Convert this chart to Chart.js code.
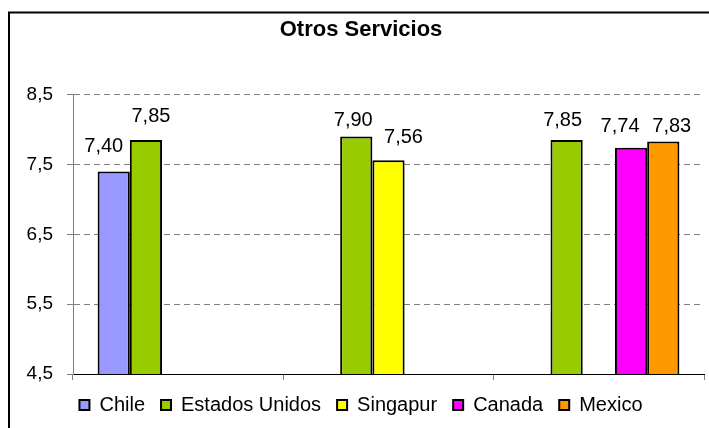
<!DOCTYPE html>
<html>
<head>
<meta charset="utf-8">
<script src="https://cdn.jsdelivr.net/npm/chart.js@4"></script>
<style>
  html, body { margin: 0; padding: 0; background: #fff; }
  #wrap { width: 709px; height: 428px; }
</style>
</head>
<body>
<div id="wrap"><canvas id="otrosChart" width="709" height="428"></canvas></div>
<script>
// datos del grafico
const categorias = ['', '', ''];
const chile = [7.40, null, null];
const estadosUnidos = [7.85, 7.90, 7.85];
const singapur = [null, 7.56, null];
const canada = [null, null, 7.74];
const mexico = [null, null, 7.83];
const yTicks = [4.5, 5.5, 6.5, 7.5, 8.5];

const FONT = "'Liberation Sans', Arial, sans-serif";

// marco exterior del grafico
const marco = {
  id: 'marco',
  beforeDraw(chart) {
    const ctx = chart.ctx;
    ctx.save();
    ctx.fillStyle = '#fff';
    ctx.fillRect(0, 0, chart.width, chart.height);
    ctx.strokeStyle = '#000';
    ctx.lineWidth = 2;
    ctx.strokeRect(9, 12.5, 1000, 1000);
    ctx.restore();
  }
};

// etiquetas con el valor encima de cada barra
const etiquetas = {
  id: 'etiquetas',
  afterDatasetsDraw(chart, args, opts) {
    const ctx = chart.ctx;
    ctx.save();
    ctx.font = opts.font;
    ctx.fillStyle = '#000';
    ctx.textAlign = 'center';
    ctx.textBaseline = 'alphabetic';
    chart.data.datasets.forEach((ds, di) => {
      const meta = chart.getDatasetMeta(di);
      meta.data.forEach((bar, i) => {
        const v = ds.data[i];
        if (v === null || v === undefined) return;
        const off = (opts.offsets[di] && opts.offsets[di][i]) || [0, 14];
        ctx.fillText(v.toFixed(2).replace('.', ','), bar.x + off[0], bar.y - off[1]);
      });
    });
    ctx.restore();
  }
};

const ctx = document.getElementById('otrosChart').getContext('2d');
const chart = new Chart(ctx, {
  type: 'bar',
  data: {
    labels: categorias,
    datasets: [
      { label: 'Chile', data: chile, backgroundColor: '#9999FF' },
      { label: 'Estados Unidos', data: estadosUnidos, backgroundColor: '#99CC00' },
      { label: 'Singapur', data: singapur, backgroundColor: '#FFFF00' },
      { label: 'Canada', data: canada, backgroundColor: '#FF00FF' },
      { label: 'Mexico', data: mexico, backgroundColor: '#FF9900' }
    ].map(d => Object.assign(d, {
      borderColor: '#000', borderWidth: 2, borderSkipped: false,
      categoryPercentage: 0.766, barPercentage: 1
    }))
  },
  options: {
    responsive: false,
    animation: false,
    layout: { padding: { left: 18, right: 5, top: 12, bottom: 3 } },
    plugins: {
      title: {
        display: true,
        text: 'Otros Servicios',
        color: '#000',
        font: { family: FONT, size: 22, weight: 'bold' },
        padding: { top: 4.8, bottom: 51.5 }
      },
      legend: {
        position: 'bottom',
        labels: {
          color: '#000',
          font: { family: FONT, size: 20 },
          boxWidth: 10, boxHeight: 10,
          padding: 16
        }
      },
      tooltip: { enabled: false },
      etiquetas: {
        font: '20px ' + FONT,
        // desplazamiento [dx, distancia sobre la barra] de cada etiqueta
        offsets: [
          [[-10, 20]],
          [[5, 18.5], [-3, 11], [-4, 14.5]],
          [null, [15, 17]],
          [null, null, [-11, 15.5]],
          [null, null, [8.5, 9]]
        ]
      }
    },
    scales: {
      x: {
        afterFit: s => { s.height = 5; },
        ticks: { display: false },
        grid: { drawOnChartArea: false, drawTicks: true, tickLength: 6, tickColor: '#808080' },
        border: { color: '#000', width: 1 }
      },
      y: {
        min: 4.5,
        max: 8.5,
        afterFit: s => { s.width = 55; },
        afterBuildTicks: s => { s.ticks = yTicks.map(v => ({ value: v })); },
        ticks: {
          color: '#000',
          padding: 14,
          font: { family: FONT, size: 19 },
          callback: v => v.toFixed(1).replace('.', ',')
        },
        grid: {
          color: c => (c.tick && c.tick.value === 4.5) ? 'rgba(0,0,0,0)' : '#808080',
          tickLength: 6,
          tickColor: '#808080'
        },
        border: { color: '#808080', width: 1, dash: [6, 4] }
      }
    }
  },
  plugins: [marco, etiquetas]
});
</script>
</body>
</html>
